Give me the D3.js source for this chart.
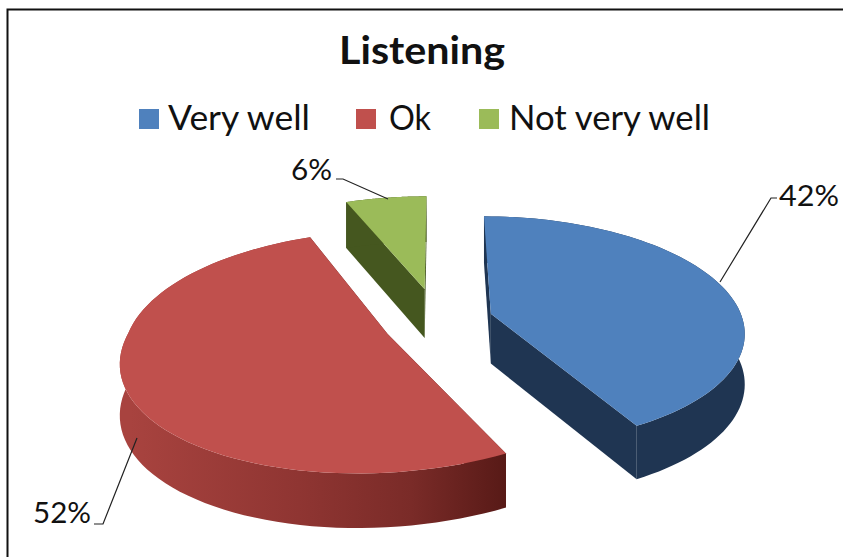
<!DOCTYPE html>
<html><head><meta charset="utf-8">
<script src="https://cdnjs.cloudflare.com/ajax/libs/d3/7.8.5/d3.min.js"></script>
<style>html,body{margin:0;background:#fff}svg{display:block}text{font-family:Lato,"Open Sans",sans-serif;fill:#111}</style>
</head><body><div id="c"></div>
<script>
const categories = ["Very well","Ok","Not very well"];
const values = [42,52,6];
const topColors = ["#4f81bd","#c0504d","#9bbb59"];
const sideColors = ["#1f3552","#8f3835","#45571f"];
const title = "Listening";

const W=843,H=557;
const cx=437,cy=323,R0=258,radius=[252,256,258],k=0.45,p=0.15,explode=[56,56,80],depth=50;
const nudgeY=[-3,0,0], nudgeX=[0,2,2], shearBelow=[0,-0.15,0];
const svg=d3.select("#c").append("svg").attr("width",W).attr("height",H);
svg.append("polyline").attr("points",`7.5,${H} 7.5,9.5 ${W},9.5`).attr("fill","none").attr("stroke","#111").attr("stroke-width",2);

const defs=svg.append("defs");
const g=defs.append("linearGradient").attr("id","redWall").attr("gradientUnits","userSpaceOnUse")
  .attr("x1",130).attr("x2",505).attr("y1",0).attr("y2",0);
[[0,"#a8433f"],[0.45,"#8f3532"],[0.75,"#7a2b28"],[1,"#581a17"]].forEach(s=>g.append("stop").attr("offset",s[0]).attr("stop-color",s[1]));

const pie=d3.pie().sort(null).value(d=>d)(values);
const line=d3.line();
function proj(u,v,down,i,ay){
  const w=1+p*v/R0;
  const y0=cy-k*v/w;
  const x=cx+u/w+nudgeX[i]+shearBelow[i]*Math.max(0,y0-ay);
  return [x, y0+nudgeY[i]+(down?depth/Math.sqrt(w):0)];
}
const sliceGeom=pie.map((d,i)=>{
  const mid=(d.startAngle+d.endAngle)/2;
  const ou=explode[i]*Math.sin(mid), ov=explode[i]*Math.cos(mid);
  const ang=d3.range(0,81).map(t=>d.startAngle+(d.endAngle-d.startAngle)*t/80);
  const r=radius[i];
  const ay=cy-k*ov/(1+p*ov/R0);
  return {i,ou,ov,ang,
    pt:(a,down)=>proj(ou+r*Math.sin(a),ov+r*Math.cos(a),down,i,ay),
    apex:down=>proj(ou,ov,down,i,ay)};
});
// paint far to near: green, blue, red
const order=[2,0,1];
order.forEach(i=>{
  const s=sliceGeom[i], gr=svg.append("g");
  const wallFill=i===1?"url(#redWall)":sideColors[i];
  const top=s.ang.map(a=>s.pt(a,false));
  const bot=s.ang.map(a=>s.pt(a,true));
  [s.ang[0],s.ang[80]].forEach(a=>{
    gr.append("path").attr("d",line([s.apex(false),s.pt(a,false),s.pt(a,true),s.apex(true)])+"Z").attr("fill",i===1?"#5c1b18":sideColors[i]);
  });
  gr.append("path").attr("d",line(top.concat(bot.slice().reverse()))+"Z").attr("fill",wallFill);
  gr.append("path").attr("d",line([s.apex(false)].concat(top))+"Z").attr("fill",topColors[i]);
});

// title
svg.append("text").attr("x",422).attr("y",64).attr("text-anchor","middle").attr("font-size",39).attr("font-weight",700).attr("textLength",166).attr("lengthAdjust","spacingAndGlyphs").text(title);
// legend
const legendX=[139,356,479], textX=[168,389,509], legendLen=[142,42,201];
categories.forEach((c,i)=>{
  svg.append("rect").attr("x",legendX[i]).attr("y",109).attr("width",20).attr("height",20).attr("fill",topColors[i]);
  svg.append("text").attr("x",textX[i]).attr("y",130).attr("font-size",34).attr("textLength",legendLen[i]).attr("lengthAdjust","spacingAndGlyphs").text(c);
});
// data labels with leader lines
const labels=[
 {text:values[0]+"%",x:779,y:206,len:60,pts:[[777,198],[771,198],[720,282]]},
 {text:values[1]+"%",x:33,y:523,len:58,pts:[[94,524],[103,524],[137,438]]},
 {text:values[2]+"%",x:291,y:180,len:41,pts:[[336,179],[343,179],[388,199]]},
];
labels.forEach(l=>{
  svg.append("path").attr("d",line(l.pts)).attr("fill","none").attr("stroke","#222").attr("stroke-width",1.2);
  svg.append("text").attr("x",l.x).attr("y",l.y).attr("font-size",29).attr("textLength",l.len).attr("lengthAdjust","spacingAndGlyphs").text(l.text);
});
</script></body></html>
